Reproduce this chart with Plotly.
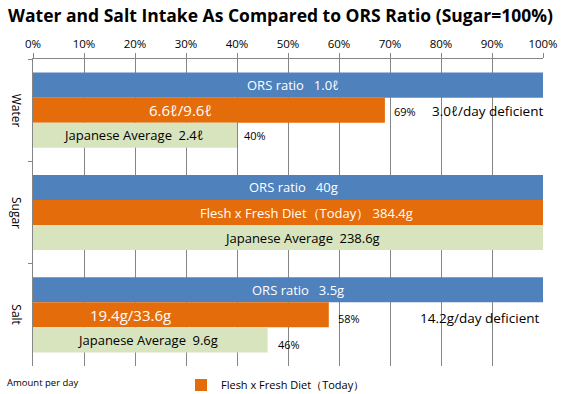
import plotly.graph_objects as go

# ---- data ----
categories = ["Water", "Sugar", "Salt"]
ors_ratio = [1.0, 1.0, 1.0]
fresh_diet = [0.69, 1.0, 0.58]
japanese_avg = [0.40, 1.0, 0.46]

ors_labels = ["ORS ratio\u2002 1.0ℓ", "ORS ratio\u2002 40g", "ORS ratio\u2002 3.5g"]
fresh_labels = ["6.6ℓ/9.6ℓ", "Flesh x Fresh Diet\uff08Today\uff09 384.4g", "19.4g/33.6g"]
japan_labels = ["Japanese Average\u20022.4ℓ", "Japanese Average\u2002238.6g",
                "Japanese Average\u20029.6g"]
deficit_labels = ["3.0ℓ/day deficient", "", "14.2g/day deficient"]

# label x-centres (fraction of axis)
ors_lx = [0.51, 0.51, 0.519]
fresh_lx = [0.29, 0.536, 0.191]
japan_lx = [0.197, 0.527, 0.2245]
deficit_lx = [0.892, None, 0.877]

BLUE = "#4F81BD"
ORANGE = "#E46C0A"
GREEN = "#D7E4BD"
GRID = "#868686"
FONT = "Open Sans"

L, R, T, B = 33, 18, 59, 28
PH = 394 - T - B
PW = 561 - L - R

fig = go.Figure()
fig.add_trace(go.Bar(y=categories, x=ors_ratio, orientation="h", name="ORS ratio",
                     marker=dict(color=BLUE, line=dict(width=0)), showlegend=False,
                     hoverinfo="skip"))
fig.add_trace(go.Bar(y=categories, x=fresh_diet, orientation="h",
                     name="Flesh x Fresh Diet\uff08Today\uff09",
                     marker=dict(color=ORANGE, line=dict(width=0)), showlegend=True,
                     hoverinfo="skip"))
fig.add_trace(go.Bar(y=categories, x=japanese_avg, orientation="h", name="Japanese Average",
                     marker=dict(color=GREEN, line=dict(width=0)), showlegend=False,
                     hoverinfo="skip"))

W = 0.245  # group slot
ann = []
for i, cat in enumerate(categories):
    ann.append(dict(x=ors_lx[i], y=i - W, text=ors_labels[i], showarrow=False,
                    font=dict(family=FONT, size=13, color="white")))
    big = i != 1
    ann.append(dict(x=fresh_lx[i], y=i, text=fresh_labels[i], showarrow=False,
                    font=dict(family=FONT, size=15 if big else 13, color="white")))
    ann.append(dict(x=japan_lx[i], y=i + W, text=japan_labels[i], showarrow=False,
                    font=dict(family=FONT, size=13, color="black")))
    if fresh_diet[i] < 1:
        ann.append(dict(x=fresh_diet[i], y=i, text=f"{fresh_diet[i]:.0%}", showarrow=False,
                        xanchor="left", xshift=7, yshift=-1 if i == 0 else -4,
                        font=dict(family=FONT, size=11, color="black")))
    if japanese_avg[i] < 1:
        ann.append(dict(x=japanese_avg[i], y=i + W, text=f"{japanese_avg[i]:.0%}",
                        showarrow=False, xanchor="left", xshift=5 if i == 0 else 8,
                        yshift=0 if i == 0 else -5,
                        font=dict(family=FONT, size=11, color="black")))
    if deficit_labels[i]:
        ann.append(dict(x=deficit_lx[i], y=i, text=deficit_labels[i], showarrow=False,
                        yshift=-1 if i == 0 else -3,
                        font=dict(family=FONT, size=13.5, color="black")))
    # category label
    ann.append(dict(x=(6 - L) / PW, xref="paper", y=i, text=cat, showarrow=False,
                    textangle=90, font=dict(family=FONT, size=12, color="black")))

ann.append(dict(x=(5 - L) / PW, xref="paper", y=(394 - B - 382.5) / PH, yref="paper",
                text="Amount per day", showarrow=False, xanchor="left", yanchor="middle",
                font=dict(family=FONT, size=9.5, color="black")))

fig.update_layout(
    width=561, height=394,
    margin=dict(l=L, r=R, t=T, b=B, autoexpand=False),
    paper_bgcolor="white", plot_bgcolor="white",
    barmode="group", bargap=0.265, bargroupgap=0,
    title=dict(text="<b>Water and Salt Intake As Compared to ORS Ratio (Sugar=100%)</b>",
               x=0.5, xref="container", y=1 - 16 / 394, yref="container",
               xanchor="center", yanchor="middle",
               font=dict(family=FONT, size=17.5, color="black")),
    xaxis=dict(side="top", range=[0, 1], tick0=0, dtick=0.1, tickformat=".0%",
               showgrid=True, gridcolor=GRID, gridwidth=1, zeroline=False,
               showline=True, linecolor=GRID, linewidth=1, automargin=False,
               ticks="outside", ticklen=5, tickcolor=GRID,
               tickfont=dict(family=FONT, size=11.5, color="black")),
    yaxis=dict(type="category", categoryorder="array", categoryarray=categories,
               autorange="reversed", showgrid=False, zeroline=False,
               showline=True, linecolor=GRID, linewidth=1, automargin=False,
               ticks="outside", ticklen=4, tickcolor=GRID, tickson="boundaries",
               showticklabels=False),
    legend=dict(orientation="h", x=(181 - L) / PW, y=(394 - B - 385) / PH,
                xanchor="left", yanchor="middle",
                font=dict(family=FONT, size=11, color="black"),
                bgcolor="rgba(0,0,0,0)", itemwidth=30),
    annotations=ann,
    showlegend=True,
)

fig.write_html("out.html", config={"displayModeBar": False},
               post_script="document.body.style.margin='0';document.body.style.overflow='hidden';")
